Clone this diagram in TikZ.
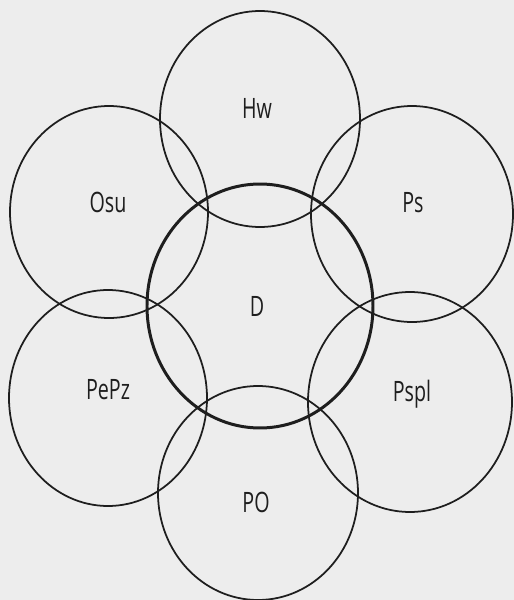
\documentclass[tikz,border=0pt]{standalone}
\usepackage{fontspec}
\setsansfont[FakeStretch=0.7]{Open Sans}
\usepackage{tikz}
\usepackage{xcolor}
\definecolor{paper}{RGB}{237,237,237}
\definecolor{ink}{RGB}{30,30,30}

\begin{document}
\begin{tikzpicture}[x=0.02cm,y=0.02cm,
  ring/.style={draw=ink,line width=1pt},
  core/.style={draw=ink,line width=1.7pt},
  lbl/.style={anchor=base,text=ink,font=\sffamily\fontsize{16}{18}\selectfont}]
\fill[paper] (0,0) rectangle (514,600);
\useasboundingbox (0,0) rectangle (514,600);
% centres of the rings
\coordinate (cHw) at (260,481);
\coordinate (cOsu) at (109,388);
\coordinate (cPs) at (412,386);
\coordinate (cD) at (260,294);
\coordinate (cPePz) at (108,202);
\coordinate (cPspl) at (410,198);
\coordinate (cPO) at (258,107);
% outer rings
\draw[ring] (cHw) ellipse [x radius=100, y radius=108];
\draw[ring] (cOsu) ellipse [x radius=99, y radius=106];
\draw[ring] (cPs) ellipse [x radius=101, y radius=108];
\draw[ring] (cPePz) ellipse [x radius=99, y radius=108];
\draw[ring] (cPspl) ellipse [x radius=102, y radius=110];
\draw[ring] (cPO) ellipse [x radius=100, y radius=107];
% middle ring
\draw[core] (cD) ellipse [x radius=113, y radius=122];
% labels
\node[lbl] (Hw) at (257,482) {Hw};
\node[lbl] (Osu) at (108,388) {Osu};
\node[lbl] (Ps) at (413,388) {Ps};
\node[lbl] (D) at (257,284) {D};
\node[lbl] (PePz) at (108,201) {PePz};
\node[lbl] (Pspl) at (412,198) {Pspl};
\node[lbl] (PO) at (256,88) {PO};
\end{tikzpicture}
\end{document}
